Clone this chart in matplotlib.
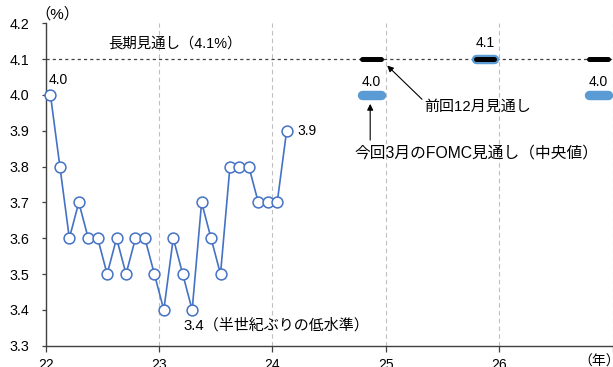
import numpy as np
import matplotlib
matplotlib.use("Agg")
import matplotlib.pyplot as plt

plt.rcParams['font.family'] = ['Liberation Sans', 'Noto Sans CJK JP', 'DejaVu Sans']

# monthly unemployment rate, Jan 2022 - Feb 2024 (%)
years = [2022] * 12 + [2023] * 12 + [2024] * 2
months = list(range(1, 13)) + list(range(1, 13)) + [1, 2]
rate = [4.0, 3.8, 3.6, 3.7, 3.6, 3.6, 3.5, 3.6, 3.5, 3.6, 3.6, 3.5,
        3.4, 3.6, 3.5, 3.4, 3.7, 3.6, 3.5, 3.8, 3.8, 3.8, 3.7, 3.7,
        3.7, 3.9]

# FOMC median projections (end of year)
proj_years = [24, 25, 26]
proj_mar = [4.0, 4.1, 4.0]   # March meeting
proj_dec = [4.1, 4.1, 4.1]   # previous December meeting
longrun = 4.1

year_ticks = [22, 23, 24, 25, 26, 27]
year_labels = ['22', '23', '24', '25', '26', '']

blue_line = '#4472C4'
blue_bar = '#5B9BD5'

x = np.array([y - 2000 + (m - 0.5) / 12 for y, m in zip(years, months)])

fig = plt.figure(figsize=(6.13, 3.67), dpi=100)
ax = fig.add_axes([0.0746, 0.058, 0.9247, 0.8785])

ax.set_xlim(22, 27)
ax.set_ylim(3.3, 4.2)

# year gridlines
for t in year_ticks[1:]:
    ax.axvline(t, color='#BFBFBF', lw=0.8, ls=(0, (4, 3)), zorder=1)

# long-run projection
ax.axhline(longrun, color='#404040', lw=0.9, ls=(0, (2.5, 2.5)), zorder=2)
ax.annotate('長期見通し（4.1%）', xy=(23.14, longrun), xytext=(0, 11),
            textcoords='offset points', ha='center', va='center', fontsize=10.4)

ax.plot(x, rate, color=blue_line, lw=1.2, marker='o', ms=7.8,
        mfc='white', mec=blue_line, mew=1.1, zorder=4, clip_on=False)

# projection marks, one month either side of mid-Nov
px = np.array(proj_years) + 10.5 / 12
for xc, vm, vd in zip(px, proj_mar, proj_dec):
    ax.plot([xc - 1 / 12, xc + 1 / 12], [vm, vm], color=blue_bar, lw=6.8,
            solid_capstyle='round', zorder=5)
    ax.plot([xc - 1 / 12, xc + 1 / 12], [vd, vd], color='black', lw=3.6,
            solid_capstyle='round', zorder=6)
    dy = 11.5 if vm == vd else 9.5
    ax.annotate(f'{vm:.1f}', xy=(xc, vm), xytext=(0, dy),
                textcoords='offset points', ha='center', va='center', fontsize=10)

# data labels
ax.annotate(f'{rate[0]:.1f}', xy=(x[0], rate[0]), xytext=(-1, 10.7),
            textcoords='offset points', ha='left', va='center', fontsize=10)
ax.annotate(f'{rate[-1]:.1f}', xy=(x[-1], rate[-1]), xytext=(8, 0),
            textcoords='offset points', ha='left', va='center', fontsize=10)
ax.annotate(f'{rate[15]:.1f}（半世紀ぶりの低水準）', xy=(x[15], rate[15]), xytext=(-6, -11),
            textcoords='offset points', ha='left', va='center', fontsize=10.8)

# callouts
arrow = dict(arrowstyle='-|>', color='black', lw=0.8, mutation_scale=9,
             shrinkA=0, shrinkB=0)
ax.annotate('', xy=(25.012, 4.082), xytext=(25.319, 3.988), arrowprops=arrow)
ax.text(25.34, 3.968, '前回12月見通し', ha='left', va='center', fontsize=10.8)
ax.annotate('', xy=(24.862, 3.975), xytext=(24.862, 3.874), arrowprops=arrow)
ax.text(25.80, 3.838, '今回3月のFOMC見通し（中央値）', ha='center', va='center', fontsize=11.3)

ax.set_xticks(year_ticks)
ax.set_xticklabels(year_labels)
ax.set_yticks(np.round(np.arange(3.3, 4.21, 0.1), 1))
ax.set_yticklabels([f'{v:.1f}' for v in np.arange(3.3, 4.21, 0.1)])
ax.tick_params(axis='x', direction='out', length=4, width=0.9, pad=5,
               labelsize=10, color='#404040')
ax.tick_params(axis='y', direction='out', length=3, width=0.9, pad=9,
               labelsize=10.3, color='#404040')

for s in ['top', 'right']:
    ax.spines[s].set_visible(False)
for s in ['left', 'bottom']:
    ax.spines[s].set_color('#404040')
    ax.spines[s].set_linewidth(1.0)

fig.text(0.058, 0.962, '（%）', ha='left', va='center', fontsize=11)
fig.text(0.944, 0.014, '（年）', ha='left', va='center', fontsize=10)

fig.savefig('out.png', dpi=100)
